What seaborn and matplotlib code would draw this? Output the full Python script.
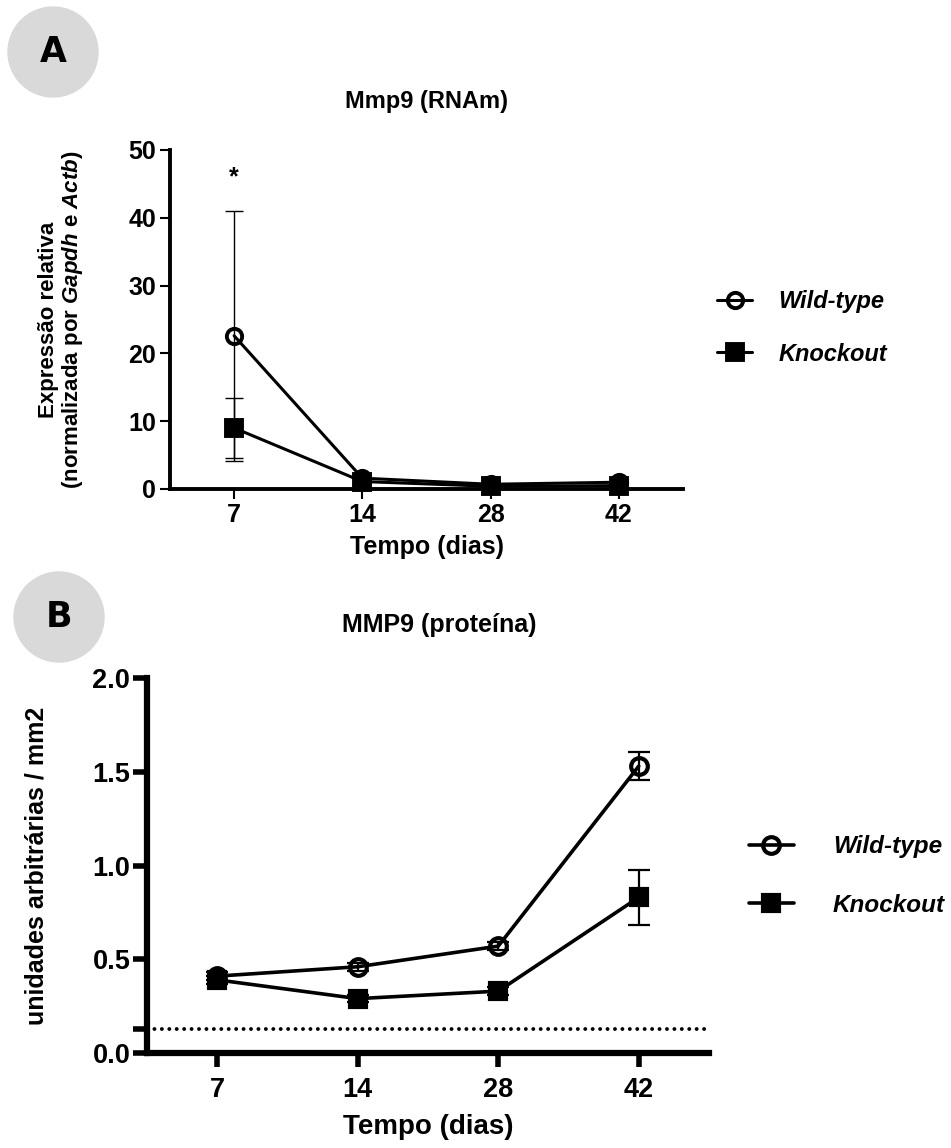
import numpy as np
import pandas as pd
import matplotlib.pyplot as plt
import seaborn as sns
from matplotlib.patches import Circle

# Data
days = ["7", "14", "28", "42"]
groups = ["Wild-type", "Knockout"]

# Mmp9 (RNAm)
rna_wt = [22.6, 1.6, 0.7, 1.0]
rna_wt_sd = [18.4, 0.5, 0.2, 0.3]
rna_ko = [9.0, 1.1, 0.4, 0.5]
rna_ko_sd = [4.4, 0.3, 0.1, 0.2]
rna_signif = 46.0

# MMP9 (proteina)
prot_wt = [0.41, 0.46, 0.57, 1.53]
prot_wt_sd = [0.02, 0.02, 0.02, 0.075]
prot_ko = [0.39, 0.29, 0.33, 0.83]
prot_ko_sd = [0.02, 0.02, 0.02, 0.145]
prot_baseline = 0.13

sns.set_style("ticks")
plt.rcParams['font.family'] = ['Liberation Sans', 'DejaVu Sans']
plt.rcParams['font.weight'] = 'bold'
plt.rcParams['axes.labelweight'] = 'bold'
plt.rcParams['axes.titleweight'] = 'bold'
plt.rcParams['text.color'] = 'black'
plt.rcParams['axes.labelcolor'] = 'black'
plt.rcParams['xtick.color'] = 'black'
plt.rcParams['ytick.color'] = 'black'
plt.rcParams['axes.edgecolor'] = 'black'
plt.rcParams['mathtext.fontset'] = 'custom'
plt.rcParams['mathtext.rm'] = 'Liberation Sans:bold'
plt.rcParams['mathtext.it'] = 'Liberation Sans:italic:bold'

W, H = 951, 1148
fig = plt.figure(figsize=(W / 100, H / 100), dpi=100)
fig.patch.set_facecolor("white")


def make_df(wt, wt_sd, ko, ko_sd):
    return pd.DataFrame({
        "dia": days * 2,
        "grupo": [groups[0]] * len(days) + [groups[1]] * len(days),
        "media": wt + ko,
        "sd": wt_sd + ko_sd,
    })


def draw_panel(ax, df, lw, ms, mew, elw, cap):
    styles = {"Wild-type": dict(marker="o", markerfacecolor="none"),
              "Knockout": dict(marker="s", markerfacecolor="black")}
    for g in groups:
        sub = df[df["grupo"] == g]
        sns.lineplot(data=sub, x="dia", y="media", ax=ax, color="black",
                     linewidth=lw, markersize=ms, markeredgewidth=mew,
                     markeredgecolor="black", label=g, sort=False,
                     legend=False, zorder=3, clip_on=False, **styles[g])
        ax.errorbar(sub["dia"], sub["media"], yerr=sub["sd"], fmt="none",
                    ecolor="black", elinewidth=elw, capsize=cap,
                    capthick=elw, zorder=2, clip_on=False)
    ax.set_xlim(-0.5, len(days) - 0.5)


# ---- Panel A ----
axA = fig.add_axes([170 / W, 1 - 489 / H, 513 / W, 339 / H])
dfA = make_df(rna_wt, rna_wt_sd, rna_ko, rna_ko_sd)
draw_panel(axA, dfA, lw=2.2, ms=11, mew=2.8, elw=1.0, cap=6.5)
axA.set_ylim(0, 50)
axA.set_yticks([0, 10, 20, 30, 40, 50])
axA.text(0, rna_signif, "*", ha="center", va="center", fontsize=18)
sns.despine(ax=axA)
for s in ["left", "bottom"]:
    axA.spines[s].set_linewidth(2.8)
axA.tick_params(axis="both", direction="out", length=7, width=1.5,
                labelsize=18, pad=3)
axA.set_xlabel("Tempo (dias)", fontsize=18, labelpad=6)
axA.set_ylabel("Expressão relativa\n(normalizada por $\\it{Gapdh}$ e $\\it{Actb}$)",
               fontsize=16, linespacing=1.1)
axA.yaxis.set_label_coords(-0.165, 0.5)
axA.set_title("Mmp9 (RNAm)", fontsize=17, pad=30)
hA, lA = axA.get_legend_handles_labels()
fig.legend(hA, lA, loc="center left", bbox_to_anchor=(717 / W, 1 - 328 / H),
           frameon=False, prop=dict(size=17, weight="bold", style="italic"),
           handlelength=1.5, handletextpad=1.1, labelspacing=1.25,
           borderpad=0, borderaxespad=0)

# ---- Panel B ----
axB = fig.add_axes([147 / W, 1 - 1053 / H, 562 / W, 375 / H])
dfB = make_df(prot_wt, prot_wt_sd, prot_ko, prot_ko_sd)
draw_panel(axB, dfB, lw=2.6, ms=12, mew=3, elw=1.6, cap=8)
axB.axhline(prot_baseline, color="black", lw=2.8, linestyle=(0, (0.01, 1.9)),
            dash_capstyle="round", zorder=1)
axB.set_ylim(0, 2.0)
axB.set_yticks([0.0, 0.5, 1.0, 1.5, 2.0])
axB.set_yticks([prot_baseline], minor=True)
axB.yaxis.set_major_formatter(plt.FormatStrFormatter("%.1f"))
sns.despine(ax=axB)
for s in ["left", "bottom"]:
    axB.spines[s].set_linewidth(4.5)
axB.tick_params(axis="both", which="both", direction="out", length=10,
                width=4, labelsize=19.5, pad=2)
axB.tick_params(axis="x", pad=7)
axB.set_xlabel("Tempo (dias)", fontsize=20, labelpad=8)
axB.set_ylabel("unidades arbitrárias / mm2", fontsize=18)
axB.yaxis.set_label_coords(-0.175, 0.5)
axB.set_title("MMP9 (proteína)", fontsize=18, pad=33, x=0.52)
hB, lB = axB.get_legend_handles_labels()
fig.legend(hB, lB, loc="center left", bbox_to_anchor=(749 / W, 1 - 876 / H),
           frameon=False, prop=dict(size=17.5, weight="bold", style="italic"),
           handlelength=1.85, handletextpad=1.6, labelspacing=1.45,
           borderpad=0, borderaxespad=0)

# ---- Panel letters ----
for cx, cy, letter in [(53, 52, "A"), (59, 617, "B")]:
    fig.patches.append(Circle((cx / 100, (H - cy) / 100), 0.45,
                              transform=fig.dpi_scale_trans,
                              color="#d9d9d9", zorder=0))
    fig.text(cx / W, 1 - cy / H, letter, ha="center", va="center",
             fontsize=25, fontweight="heavy", family="DejaVu Sans")

fig.savefig("out.png", dpi=100)
